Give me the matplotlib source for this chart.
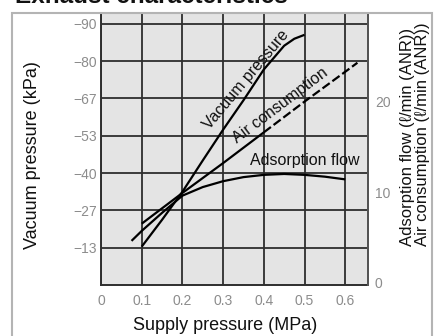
import matplotlib
matplotlib.use("Agg")
import matplotlib.pyplot as plt
from matplotlib.patches import Rectangle

plt.rcParams['font.family'] = ['Liberation Sans', 'DejaVu Sans']

# Supply pressure (MPa) and the three characteristic curves
vac_x = [0.10, 0.15, 0.20, 0.25, 0.30, 0.35, 0.40, 0.45, 0.475, 0.50]
vac_kpa = [13.7, 23.3, 33.3, 44.5, 55.5, 66.0, 77.0, 85.5, 88.0, 89.4]

air_x = [0.10, 0.20, 0.30, 0.40, 0.50, 0.60, 0.63]
air_flow = [6.5, 9.9, 13.2, 16.6, 20.0, 23.3, 24.3]

ads_x = [0.075, 0.10, 0.15, 0.20, 0.25, 0.30, 0.35, 0.40, 0.45, 0.50, 0.55, 0.60]
ads_flow = [4.6, 5.7, 7.7, 9.6, 10.55, 11.2, 11.65, 11.9, 12.0, 11.9, 11.7, 11.4]

x_ticks = [0, 0.1, 0.2, 0.3, 0.4, 0.5, 0.6]
x_labels = ["0", "0.1", "0.2", "0.3", "0.4", "0.5", "0.6"]
vac_ticks = [40 / 3 * k for k in range(1, 8)]
vac_labels = ["\u221213", "\u221227", "\u221240", "\u221253", "\u221267", "\u221280", "\u221290"]
flow_ticks = [0, 10, 20]
flow_labels = ["0", "10", "20"]

W, H = 434, 336
fig = plt.figure(figsize=(W / 100, H / 100), dpi=100)
fig.patch.set_facecolor("white")

ax = fig.add_axes([101 / W, (H - 285) / H, (368 - 101) / W, (285 - 13) / H])
ax.set_facecolor("#e4e4e4")
ax.set_xlim(0, 0.656)
ax.set_ylim(0, 97.2)

grid_c = "#2e2e2e"
ax.set_xticks(x_ticks, x_labels)
ax.set_yticks(vac_ticks, vac_labels)
ax.grid(True, color=grid_c, lw=1.3, zorder=1)
ax.set_axisbelow(True)
ax.tick_params(axis="x", length=0, pad=6.5, labelsize=10, labelcolor="#8c8c8c")
ax.tick_params(axis="y", length=0, pad=3, labelsize=10, labelcolor="#8c8c8c")
for side in ("left", "bottom", "right"):
    ax.spines[side].set_color(grid_c)
    ax.spines[side].set_linewidth(1.4)
ax.spines["top"].set_visible(False)

ax2 = ax.twinx()
ax2.set_ylim(-0.28, 29.8)
ax2.set_yticks(flow_ticks, flow_labels)
ax2.tick_params(axis="y", length=0, pad=5, labelsize=10, labelcolor="#8c8c8c")
for side in ("left", "bottom", "top"):
    ax2.spines[side].set_visible(False)
ax2.spines["right"].set_color("#555555")
ax2.spines["right"].set_linewidth(1.4)

lw = 1.6
ax.plot(vac_x, vac_kpa, color="black", lw=lw, zorder=3, solid_capstyle="butt")
ax2.plot(ads_x, ads_flow, color="black", lw=lw, zorder=3, solid_capstyle="butt")
solid = [i for i, v in enumerate(air_x) if v <= 0.40]
dashed = [i for i, v in enumerate(air_x) if v >= 0.40]
ax2.plot([air_x[i] for i in solid], [air_flow[i] for i in solid],
         color="black", lw=lw, zorder=3, solid_capstyle="butt")
ax2.plot([air_x[i] for i in dashed], [air_flow[i] for i in dashed],
         color="black", lw=lw, ls=(0, (4, 1.5)), zorder=3)

txt = dict(fontsize=11.5, color="#111111", zorder=4)
ax.text(0.356, 73.3, "Vacuum pressure", rotation=50, ha="center", va="center",
        rotation_mode="anchor", **txt)
ax.text(0.44, 64.0, "Air consumption", rotation=37, ha="center", va="center",
        rotation_mode="anchor", **txt)
ax.text(0.366, 43.0, "Adsorption flow", ha="left", va="baseline", **txt)

ax.set_xlabel("Supply pressure (MPa)", fontsize=13, color="#111111")
ax.xaxis.set_label_coords(0.464, -0.118)
ax.set_ylabel("Vacuum pressure (kPa)", fontsize=13, color="#111111",
              va="center", ha="center")
ax.yaxis.set_label_coords(-0.255, 0.478)

fig.text(415 / W, 1 - 246 / H,
         "Adsorption flow (\u2113/min (ANR))\nAir consumption (\u2113/min (ANR))",
         rotation=90, ha="center", va="bottom", multialignment="left",
         fontsize=12, linespacing=1.0, color="#111111")

fig.text(15 / W, 1 - 3 / H, "Exhaust characteristics", fontsize=17.5,
         fontweight="bold", ha="left", va="baseline", color="#111111")

frame = Rectangle((12 / W, -0.05), (432 - 12) / W, (H - 13) / H + 0.05,
                  transform=fig.transFigure, fill=False, edgecolor="#b4b4b4",
                  lw=1.5, zorder=5)
fig.patches.append(frame)

fig.savefig("out.png", dpi=100)
